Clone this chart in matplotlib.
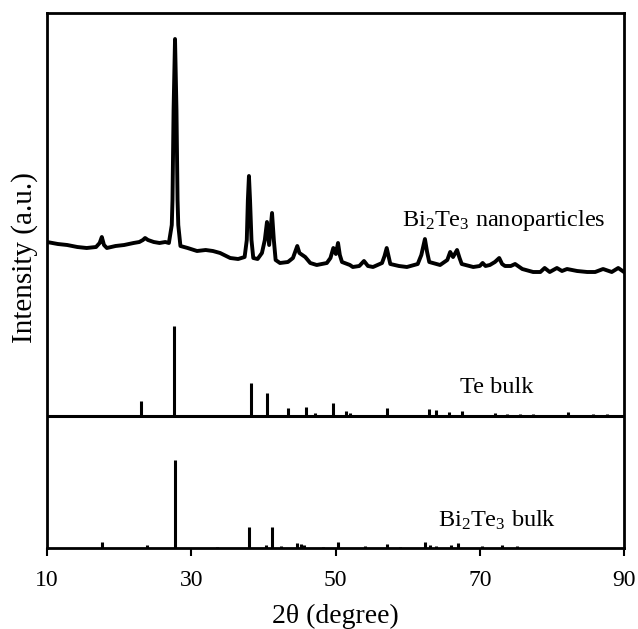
import matplotlib
matplotlib.use("Agg")
import matplotlib.pyplot as plt

plt.rcParams['font.family'] = ['Liberation Serif', 'DejaVu Serif']
plt.rcParams['mathtext.fontset'] = 'custom'
plt.rcParams['mathtext.rm'] = 'Liberation Serif'
plt.rcParams['mathtext.it'] = 'Liberation Serif:italic'

# Bi2Te3 nanoparticles pattern (2theta, intensity a.u.)
np_2theta = [10.0, 11.5, 12.8, 14.2, 15.5, 16.8, 17.3, 17.6, 17.9, 18.3, 19.5, 20.7,
             22.0, 22.8, 23.3, 23.6, 24.0, 24.8, 25.6, 26.4, 26.9, 27.3, 27.4, 27.55,
             27.75, 27.95, 28.1, 28.2, 28.5, 29.5, 30.8, 32.0, 33.0, 34.0, 35.4, 36.5,
             37.4, 37.7, 37.85, 38.0, 38.15, 38.35, 38.6, 39.2, 39.8, 40.2, 40.5, 40.8,
             41.2, 41.45, 41.7, 42.3, 43.4, 44.1, 44.4, 44.7, 45.0, 45.4, 45.8, 46.5,
             47.4, 48.8, 49.3, 49.7, 50.05, 50.35, 50.6, 50.9, 52.0, 52.4, 53.3, 53.95,
             54.5, 55.2, 56.45, 56.8, 57.1, 57.35, 57.6, 58.8, 59.9, 61.4, 61.9, 62.4,
             62.7, 63.0, 64.5, 65.5, 65.9, 66.3, 66.85, 67.2, 67.5, 69.1, 70.0, 70.4,
             70.8, 71.4, 72.1, 72.7, 73.1, 73.5, 74.3, 74.9, 75.9, 77.4, 78.4, 79.0,
             79.7, 80.7, 81.4, 82.1, 83.5, 84.9, 86.0, 87.1, 88.3, 89.2, 90.0]
np_int = [306, 304, 303, 301, 300, 301, 305, 311, 303, 300, 302, 303,
          305, 306, 308, 310, 308, 306, 305, 306, 305, 323, 348, 438,
          509, 438, 348, 323, 302, 300, 297, 298, 297, 295, 290, 289,
          291, 308, 348, 372, 348, 308, 290, 289, 295, 308, 326, 303,
          335, 308, 288, 285, 286, 290, 296, 302, 295, 293, 291, 285,
          283, 285, 290, 300, 294, 305, 293, 286, 283, 281, 282, 287,
          282, 281, 285, 292, 300, 292, 284, 282, 281, 284, 293, 309,
          296, 286, 283, 288, 296, 291, 298, 290, 284, 281, 282, 285,
          282, 283, 286, 290, 284, 282, 282, 284, 279, 276, 276, 280,
          276, 280, 277, 279, 277, 276, 276, 279, 276, 280, 276]

# Te bulk reference sticks
te_2theta = [23.1, 27.6, 38.3, 40.5, 43.4, 45.9, 47.1, 49.7, 51.4, 52.0, 57.1, 62.9,
             63.9, 65.8, 67.5, 72.1, 73.8, 75.6, 77.4, 82.2, 85.7, 87.6]
te_int = [15, 90, 33, 23, 8, 9, 3, 13, 5, 3, 8, 7, 6, 4, 5, 3, 2, 2, 2, 4, 2, 2]
te_base = 132

# Bi2Te3 bulk reference sticks
bt_2theta = [17.6, 23.8, 27.8, 33.6, 38.0, 40.4, 41.2, 42.4, 44.7, 45.2, 45.7, 48.3,
             50.4, 54.1, 57.2, 58.9, 62.4, 63.1, 64.0, 66.0, 67.0, 70.3, 73.1, 75.2]
bt_int = [6, 3, 88, 1.5, 21, 3, 21, 2, 5, 4, 3, 1.5, 6, 2, 4, 1.5, 6, 3, 2, 3, 5, 2, 3, 2]
bt_base = 0

x_ticks = [10, 30, 50, 70, 90]

fig = plt.figure(figsize=(6.38, 6.29), dpi=100)
ax = fig.add_axes([47/638, 1-548/629, (624-47)/638, (548-13)/629])

ax.plot(np_2theta, np_int, color='black', lw=2.8, solid_joinstyle='round')
ax.vlines(te_2theta, te_base, [te_base + h for h in te_int], color='black', lw=2.2)
ax.axhline(te_base, color='black', lw=2.2)
ax.vlines(bt_2theta, bt_base, [bt_base + h for h in bt_int], color='black', lw=2.2)

ax.set_xlim(10, 90)
ax.set_ylim(0, 535)
ax.set_xticks(x_ticks)
ax.set_yticks([])
ax.tick_params(axis='x', direction='out', length=6, width=1.5, labelsize=17, pad=10)
for s in ax.spines.values():
    s.set_linewidth(2)

ax.text(59.2, 322, r'Bi$_2$Te$_3$ nanoparticles', fontsize=17.5, va='baseline', ha='left')
ax.text(67.3, 155, 'Te bulk', fontsize=17.5, va='baseline', ha='left')
ax.text(64.2, 21, r'Bi$_2$Te$_3$ bulk', fontsize=17.5, va='baseline', ha='left')

ax.set_xlabel('2θ (degree)', fontsize=20, labelpad=9)
ax.set_ylabel('Intensity (a.u.)', fontsize=21)
ax.yaxis.set_label_coords(-0.016, (548 - 258) / 535)

fig.savefig('out.png', dpi=100)
